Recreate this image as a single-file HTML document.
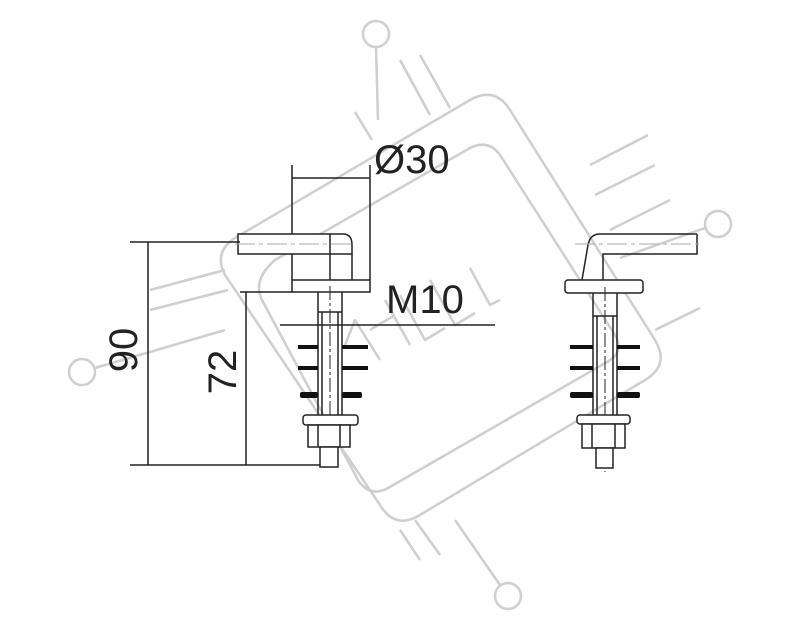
<!DOCTYPE html>
<html><head><style>body{margin:0;background:#fff}svg{display:block}</style></head><body>
<svg width="804" height="635" viewBox="0 0 804 635" xmlns="http://www.w3.org/2000/svg">
<!-- watermark -->
<g stroke="#cfcfcf" stroke-width="2.5" fill="none" stroke-linejoin="round">
<circle cx="376" cy="34" r="13"/><circle cx="718" cy="224" r="13"/><circle cx="508" cy="596" r="13"/><circle cx="82" cy="372" r="13"/>
<path d="M376 47 L378 120"/><path d="M705 228 L620 258"/><path d="M500 585 L455 520"/><path d="M95 368 L225 330"/>
<path d="M240 235 L470 100 Q495 86 510 110 L655 340 Q670 365 645 380 L420 515 Q395 530 380 505 L225 275 Q212 250 240 235 Z"/>
<path d="M275 260 L470 148 Q490 138 502 158 L615 335 Q625 352 607 362 L388 488 Q370 498 358 480 L262 300 Q252 280 275 260 Z"/>
<path d="M355 112 L372 140"/><path d="M400 60 L430 115"/><path d="M420 55 L450 108"/>
<path d="M590 165 L648 135"/><path d="M595 195 L655 165"/><path d="M610 230 L670 200"/><path d="M655 330 L700 308"/>
<path d="M400 530 L420 560"/><path d="M415 520 L440 555"/><path d="M150 290 L225 270"/><path d="M150 310 L228 290"/>
<path d="M345 345 L355 320 L380 360 M370 330 L395 315 M385 300 L410 345 M400 295 L425 340 L445 328 M430 280 L455 325 L475 313 M470 268 L490 305 L500 300"/>
</g>
<g stroke="#222" stroke-width="1.5" fill="none">
<!-- left part -->
<path d="M238 234 H343 Q352 234 352 245 V254 H238 Z" fill="#fff"/>
<path d="M292 254 V280 M352 254 V280 M330 234 V280"/>
<rect x="292" y="280" width="78" height="12" fill="#fff"/>
<path d="M292 234 V165 M370 280 V165 M292 178 H370"/>
<path d="M318 292 V415 M342 292 V415 M322 312 V415 M338 312 V415 M318 312 H342"/>
<path d="M330 286 V470" stroke-dasharray="14,3,3,3" stroke-width="1"/>
<path d="M130 242 H240 M130 465 H330 M148 242 V465 M240 292 H292 M246 292 V465 M280 325 H495"/>
<rect x="303" y="415" width="55" height="10" rx="3" fill="#fff"/>
<rect x="308" y="425" width="42" height="22" fill="#fff"/>
<path d="M318 425 V447 M340 425 V447"/>
<rect x="320" y="447" width="18" height="20" fill="#fff"/>
<!-- right part -->
<path d="M697 234 H600 Q590 234 588 245 L582 280 M697 234 V254 H603 V280"/>
<rect x="565" y="280" width="78" height="13" rx="3" fill="#fff"/>
<path d="M593 293 V415 M617 293 V415 M597 316 V415 M613 316 V415 M593 316 H617"/>
<path d="M605 287 V472" stroke-dasharray="14,3,3,3" stroke-width="1"/>
<rect x="577" y="415" width="53" height="9" rx="3" fill="#fff"/>
<rect x="582" y="424" width="43" height="24" fill="#fff"/>
<path d="M592 424 V448 M615 424 V448"/>
<rect x="596" y="448" width="17" height="20" fill="#fff"/>
</g>
<g stroke="#aaa" stroke-width="1" stroke-dasharray="20,4,4,4"><path d="M235 244 H352"/><path d="M575 244 H700"/></g>
<g fill="#111">
<rect x="298" y="345" width="20" height="4"/><rect x="342" y="345" width="26" height="4"/>
<rect x="298" y="366" width="20" height="4"/><rect x="342" y="366" width="26" height="4"/>
<rect x="300" y="392" width="18" height="6" rx="2"/><rect x="342" y="392" width="20" height="6" rx="2"/>
<rect x="570" y="345" width="23" height="4"/><rect x="617" y="345" width="23" height="4"/>
<rect x="570" y="366" width="23" height="4"/><rect x="617" y="366" width="23" height="4"/>
<rect x="570" y="392" width="23" height="6" rx="2"/><rect x="617" y="392" width="23" height="6" rx="2"/>
</g>
<g font-family="Liberation Sans, sans-serif" font-size="40" fill="#222">
<text x="374" y="173">Ø30</text>
<text x="386" y="313">M10</text>
<text transform="translate(137,350) rotate(-90)" text-anchor="middle">90</text>
<text transform="translate(236,372) rotate(-90)" text-anchor="middle">72</text>
</g>
</svg>
</body></html>
